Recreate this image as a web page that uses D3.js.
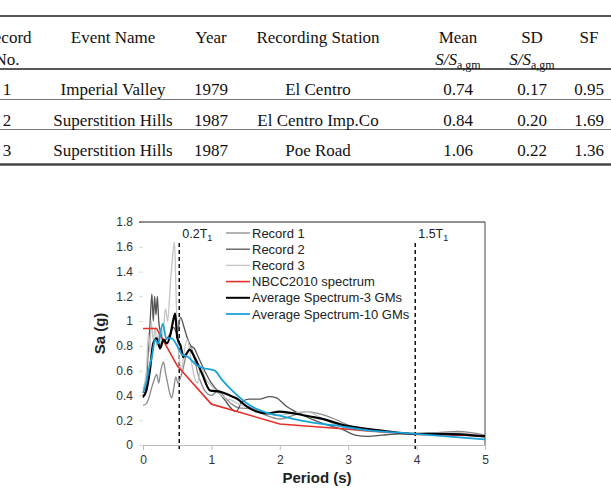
<!DOCTYPE html>
<html>
<head>
<meta charset="utf-8">
<script src="https://cdn.jsdelivr.net/npm/d3@7/dist/d3.min.js"></script>
<style>
  body { margin: 0; background: #fff; }
</style>
</head>
<body>
<script>
// Table data
var recordNo = ["1", "2", "3"];
var eventNames = ["Imperial Valley", "Superstition Hills", "Superstition Hills"];
var years = ["1979", "1987", "1987"];
var stations = ["El Centro", "El Centro Imp.Co", "Poe Road"];
var meanVals = ["0.74", "0.84", "1.06"];
var sdVals = ["0.17", "0.20", "0.22"];
var sfVals = ["0.95", "1.69", "1.36"];

// Spectra: [period (s), Sa (g)]
var record1 = [[0,0.32],[0.04,0.33],[0.08,0.37],[0.12,0.45],[0.16,0.52],[0.2,0.57],[0.23,0.5],[0.26,0.6],[0.3,0.67],[0.33,0.58],[0.36,0.5],[0.39,0.42],[0.42,0.38],[0.45,0.46],[0.48,0.55],[0.51,0.5],[0.54,0.53],[0.58,0.6],[0.62,0.7],[0.66,0.76],[0.7,0.79],[0.75,0.7],[0.8,0.58],[0.85,0.5],[0.9,0.44],[1.0,0.4],[1.1,0.44],[1.2,0.38],[1.3,0.33],[1.4,0.3],[1.6,0.29],[1.8,0.24],[2.0,0.21],[2.2,0.24],[2.4,0.27],[2.6,0.25],[2.8,0.21],[3.0,0.16],[3.2,0.13],[3.5,0.11],[4.0,0.09],[4.3,0.1],[4.6,0.11],[5.0,0.08]];
var record2 = [[0,0.38],[0.05,0.5],[0.08,0.8],[0.1,0.95],[0.13,1.22],[0.15,1.0],[0.17,1.2],[0.19,1.05],[0.21,1.2],[0.23,1.0],[0.26,0.9],[0.3,0.84],[0.35,0.86],[0.4,0.9],[0.45,0.95],[0.5,0.9],[0.55,1.03],[0.6,0.95],[0.65,0.86],[0.7,0.8],[0.75,0.78],[0.8,0.72],[0.9,0.6],[1.0,0.5],[1.1,0.43],[1.2,0.36],[1.3,0.29],[1.36,0.27],[1.45,0.35],[1.55,0.37],[1.7,0.37],[1.85,0.39],[1.95,0.38],[2.1,0.31],[2.3,0.25],[2.5,0.2],[2.7,0.16],[2.9,0.13],[3.1,0.08],[3.3,0.07],[3.5,0.08],[3.8,0.09],[4.0,0.09],[4.5,0.09],[5.0,0.07]];
var record3 = [[0,0.45],[0.05,0.6],[0.08,0.9],[0.1,0.75],[0.12,1.0],[0.15,0.85],[0.18,0.95],[0.2,0.8],[0.23,0.9],[0.26,0.8],[0.3,0.95],[0.33,1.1],[0.36,1.0],[0.4,1.3],[0.43,1.5],[0.46,1.64],[0.48,1.3],[0.5,0.9],[0.53,0.7],[0.56,0.6],[0.6,0.75],[0.65,0.85],[0.7,0.7],[0.75,0.55],[0.8,0.5],[0.85,0.64],[0.9,0.55],[1.0,0.48],[1.1,0.42],[1.2,0.38],[1.3,0.36],[1.4,0.33],[1.6,0.3],[1.8,0.26],[2.0,0.24],[2.2,0.26],[2.4,0.27],[2.6,0.22],[2.8,0.17],[3.0,0.13],[3.3,0.11],[3.6,0.1],[4.0,0.09],[4.3,0.1],[4.6,0.1],[5.0,0.06]];
var nbcc2010 = [[0,0.94],[0.2,0.94],[0.5,0.64],[1.0,0.33],[2.0,0.17],[4.0,0.085],[5.0,0.075]];
var avg3GMs = [[0,0.39],[0.05,0.44],[0.1,0.6],[0.15,0.82],[0.2,0.86],[0.25,0.78],[0.3,0.85],[0.35,0.82],[0.4,0.89],[0.44,1.0],[0.47,1.06],[0.5,0.87],[0.55,0.8],[0.59,0.71],[0.64,0.74],[0.68,0.77],[0.76,0.7],[0.86,0.58],[0.98,0.44],[1.13,0.43],[1.27,0.4],[1.37,0.375],[1.52,0.31],[1.66,0.27],[1.81,0.255],[2.0,0.27],[2.25,0.25],[2.44,0.23],[2.59,0.215],[2.93,0.16],[3.51,0.115],[3.98,0.09],[4.39,0.09],[5.0,0.07]];
var avg10GMs = [[0,0.42],[0.05,0.51],[0.1,0.65],[0.13,0.71],[0.175,0.85],[0.22,0.82],[0.29,0.98],[0.34,0.86],[0.42,0.86],[0.49,0.81],[0.57,0.73],[0.66,0.71],[0.78,0.645],[0.88,0.62],[0.98,0.61],[1.05,0.6],[1.15,0.53],[1.32,0.43],[1.56,0.32],[1.81,0.26],[2.05,0.23],[2.44,0.185],[2.78,0.16],[3.27,0.12],[3.98,0.09],[5.0,0.045]];

var seriesNames = ["Record 1", "Record 2", "Record 3", "NBCC2010 spectrum", "Average Spectrum-3 GMs", "Average Spectrum-10 GMs"];
var seriesColors = ["#8a8a8a", "#555555", "#c4c4c4", "#e8302a", "#000000", "#1aa3d9"];
var seriesWidths = [1.3, 1.3, 1.3, 1.6, 2.2, 1.8];

var xTicks = [0, 1, 2, 3, 4, 5];
var yTicks = [0, 0.2, 0.4, 0.6, 0.8, 1, 1.2, 1.4, 1.6, 1.8];
var yTickLabels = ["0", "0.2", "0.4", "0.6", "0.8", "1", "1.2", "1.4", "1.6", "1.8"];
var markerT = [0.53, 3.98];
var markerLabels = ["0.2T", "1.5T"];

var svgWidth = 611;
var svgHeight = 489;

var svg = d3.select("body")
  .append("svg")
  .attr("width", svgWidth)
  .attr("height", svgHeight)
  .style("display", "block");

// ---------- table ----------
var table = svg.append("g")
  .attr("font-family", "'Liberation Serif', 'Times New Roman', serif")
  .attr("font-size", 17)
  .attr("fill", "#111")
  .attr("text-anchor", "middle");

var colX = [7, 113, 211, 318, 458, 532, 589];
var rowY = [95, 126, 156];

table.append("line").attr("x1", 0).attr("x2", svgWidth).attr("y1", 16).attr("y2", 16)
  .attr("stroke", "#222").attr("stroke-width", 1.6);
table.append("line").attr("x1", 0).attr("x2", svgWidth).attr("y1", 69).attr("y2", 69)
  .attr("stroke", "#222").attr("stroke-width", 1.6);
[99.5, 129.5].forEach(function(y) {
  table.append("line").attr("x1", 0).attr("x2", svgWidth).attr("y1", y).attr("y2", y)
    .attr("stroke", "#777").attr("stroke-width", 1);
});
table.append("line").attr("x1", 0).attr("x2", svgWidth).attr("y1", 164.5).attr("y2", 164.5)
  .attr("stroke", "#444").attr("stroke-width", 2.6);

var headers = ["Record", "Event Name", "Year", "Recording Station", "Mean", "SD", "SF"];
table.selectAll("text.head")
  .data(headers)
  .enter()
  .append("text")
  .attr("class", "head")
  .attr("x", function(d, i) { return colX[i]; })
  .attr("y", 43)
  .text(function(d) { return d; });

table.append("text").attr("x", colX[0]).attr("y", 65).text("No.");

[colX[4], colX[5]].forEach(function(cx) {
  var t = table.append("text").attr("x", cx).attr("y", 65);
  t.append("tspan").attr("font-style", "italic").text("S/S");
  t.append("tspan").attr("font-size", 12).attr("dy", 4).text("a,gm");
});

var columns = [recordNo, eventNames, years, stations, meanVals, sdVals, sfVals];
columns.forEach(function(col, ci) {
  table.selectAll("text.c" + ci)
    .data(col)
    .enter()
    .append("text")
    .attr("class", "c" + ci)
    .attr("x", colX[ci])
    .attr("y", function(d, i) { return rowY[i]; })
    .text(function(d) { return d; });
});

// ---------- chart ----------
var x = d3.scaleLinear().domain([0, 5]).range([143, 485]);
var y = d3.scaleLinear().domain([0, 1.8]).range([445, 222]);

var chart = svg.append("g")
  .attr("font-family", "'Liberation Sans', Arial, sans-serif");

// bottom axis
var bottomAxis = d3.axisBottom(x).tickValues(xTicks).tickFormat(d3.format("d")).tickSize(5);
var gx = chart.append("g")
  .attr("transform", "translate(0," + y(0) + ")")
  .call(bottomAxis);
gx.select(".domain").attr("stroke", "#bdbdbd");
gx.selectAll(".tick line").attr("stroke", "#bdbdbd");
gx.selectAll(".tick text").attr("font-size", 12).attr("fill", "#333").attr("dy", "0.95em");

// left axis
var leftAxis = d3.axisLeft(y).tickValues(yTicks)
  .tickFormat(function(d, i) { return yTickLabels[i]; })
  .tickSize(4).tickPadding(6);
var gy = chart.append("g")
  .attr("transform", "translate(" + x(0) + ",0)")
  .call(leftAxis);
gy.select(".domain").remove();
gy.selectAll(".tick line").attr("stroke", "#d9d9d9");
gy.selectAll(".tick text").attr("font-size", 12).attr("fill", "#333");

// top and right border
chart.append("line").attr("x1", 139).attr("x2", x(5)).attr("y1", y(1.8)).attr("y2", y(1.8))
  .attr("stroke", "#222").attr("stroke-width", 1);
chart.append("line").attr("x1", x(5)).attr("x2", x(5)).attr("y1", y(1.8)).attr("y2", y(0))
  .attr("stroke", "#444").attr("stroke-width", 1);

// markers 0.2T1 and 1.5T1
markerT.forEach(function(t, i) {
  chart.append("line")
    .attr("x1", x(t)).attr("x2", x(t))
    .attr("y1", 243).attr("y2", y(0) + 4)
    .attr("stroke", "#111").attr("stroke-width", 1.5)
    .attr("stroke-dasharray", "4,3");
  var lab = chart.append("text")
    .attr("x", x(t) + 3).attr("y", 238)
    .attr("font-size", 12.5).attr("fill", "#222");
  lab.append("tspan").text(markerLabels[i]);
  lab.append("tspan").attr("font-size", 9).attr("dy", 3).text("1");
});

// lines
var allSeries = [record1, record2, record3, nbcc2010, avg3GMs, avg10GMs];
var line = d3.line()
  .x(function(d) { return x(d[0]); })
  .y(function(d) { return y(d[1]); });
var smoothLine = d3.line()
  .x(function(d) { return x(d[0]); })
  .y(function(d) { return y(d[1]); })
  .curve(d3.curveMonotoneX);

chart.selectAll("path.series")
  .data(allSeries)
  .enter()
  .append("path")
  .attr("class", "series")
  .attr("fill", "none")
  .attr("stroke", function(d, i) { return seriesColors[i]; })
  .attr("stroke-width", function(d, i) { return seriesWidths[i]; })
  .attr("stroke-linejoin", "round")
  .attr("d", function(d, i) { return i === 3 ? line(d) : smoothLine(d); });

// legend
var legend = chart.append("g").attr("transform", "translate(226,233)");
var items = legend.selectAll("g")
  .data(seriesNames)
  .enter()
  .append("g")
  .attr("transform", function(d, i) { return "translate(0," + (i * 16.2) + ")"; });
items.append("line")
  .attr("x1", 0).attr("x2", 24)
  .attr("stroke", function(d, i) { return seriesColors[i]; })
  .attr("stroke-width", function(d, i) { return Math.min(seriesWidths[i], 2); });
items.append("text")
  .attr("x", 26).attr("y", 4.5)
  .attr("font-size", 13).attr("fill", "#222")
  .text(function(d) { return d; });

// axis titles
chart.append("text")
  .attr("x", (x(0) + x(5)) / 2 + 3).attr("y", 483)
  .attr("text-anchor", "middle")
  .attr("font-size", 15).attr("font-weight", "bold").attr("fill", "#222")
  .text("Period (s)");
chart.append("text")
  .attr("transform", "translate(105," + y(0.9) + ") rotate(-90)")
  .attr("text-anchor", "middle")
  .attr("font-size", 15).attr("font-weight", "bold").attr("fill", "#222")
  .text("Sa (g)");
</script>
</body>
</html>
